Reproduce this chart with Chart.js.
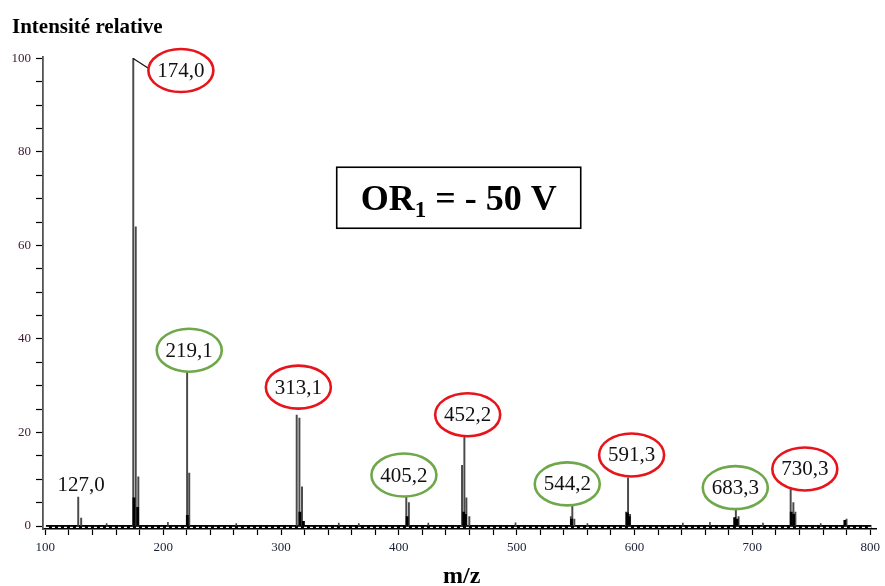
<!DOCTYPE html>
<html lang="fr">
<head>
<meta charset="utf-8">
<script src="https://cdn.jsdelivr.net/npm/chart.js@4.4.1/dist/chart.umd.min.js"></script>
<style>
  html, body { margin: 0; padding: 0; background: #fff; }
  #wrap { width: 885px; height: 586px; }
</style>
</head>
<body>
<div id="wrap"><canvas id="spectre"></canvas></div>
<script>
// pics fins (m/z, intensité relative %)
const peakMz  = [127.9, 130.4, 174.6, 176.7, 178.9, 220.3, 222.1, 313.3, 315.6, 317.8,
                 406.3, 408.5, 453.6, 455.6, 457.3, 459.8, 546.0, 547.2, 548.9,
                 592.8, 594.5, 596.2, 686.0, 688.3, 732.5, 734.8, 736.5, 779.9];
const peakInt = [6.2, 1.7, 100, 64, 10.5, 33.8, 11.3, 23.7, 23.1, 8.4,
                 7.3, 5.0, 13, 19, 6.0, 2.0, 2.0, 4.3, 1.5,
                 3.0, 10.3, 2.5, 4.1, 2.0, 8.1, 5.0, 3.0, 1.5];

// massifs isotopiques au pied des pics
const clusterMz  = [175.2, 178.3, 220.5, 316.0, 319.0, 407.0, 455.0, 456.5, 546.5,
                    594.0, 595.5, 685.0, 687.0, 733.0, 735.0, 778.5];
const clusterInt = [6.0, 4.0, 2.3, 3.0, 1.0, 2.0, 3.0, 2.5, 1.5,
                    2.8, 2.0, 1.8, 1.5, 3.0, 2.5, 1.2];

// bruit de fond
const noiseMz  = [152, 204, 262, 349, 366, 425, 499, 560, 641, 664, 709, 758];
const noiseInt = [0.5, 0.8, 0.5, 0.6, 0.5, 0.6, 0.7, 0.5, 0.6, 0.8, 0.6, 0.5];

const baselineMz  = [100.5, 801];
const baselineInt = [-0.3, -0.3];

// étiquettes des pics
const labelText  = ["127,0", "174,0", "219,1", "313,1", "405,2", "452,2", "544,2", "591,3", "683,3", "730,3"];
const labelMz    = [130.4, 215.0, 222.1, 314.7, 404.3, 458.4, 542.9, 597.5, 685.5, 744.5];
const labelInt   = [8.8, 97.4, 37.6, 29.7, 10.9, 23.8, 9.0, 15.2, 8.2, 12.2];
const labelRing  = ["", "red", "green", "red", "green", "red", "green", "red", "green", "red"];

const xTicks = [100, 200, 300, 400, 500, 600, 700, 800];
const yTicks = [0, 20, 40, 60, 80, 100];

const boxMz = 450.8, boxInt = 70.2;

const serif = "'Liberation Serif', 'Times New Roman', serif";
const ringColors = { red: "#e8141b", green: "#6fa84a" };

const toXY = (xs, ys) => xs.map((x, i) => ({ x: x, y: ys[i] }));

const annotations = {
  id: "annotations",
  afterDatasetsDraw(chart) {
    const { ctx, chartArea, scales: { x, y } } = chart;
    ctx.save();

    // trait de rappel du pic de base
    const px0 = x.getPixelForValue(peakMz[2]), py0 = y.getPixelForValue(peakInt[2]);
    const lx = x.getPixelForValue(labelMz[1]), ly = y.getPixelForValue(labelInt[1]);
    ctx.strokeStyle = "#111";
    ctx.lineWidth = 1.2;
    ctx.beginPath();
    ctx.moveTo(px0, py0);
    ctx.lineTo(lx - 26, ly + 2);
    ctx.stroke();

    ctx.font = "21px " + serif;
    ctx.textAlign = "center";
    ctx.textBaseline = "middle";
    labelText.forEach((t, i) => {
      const cx = x.getPixelForValue(labelMz[i]);
      const cy = y.getPixelForValue(labelInt[i]);
      if (labelRing[i]) {
        ctx.fillStyle = "#fff";
        ctx.beginPath();
        ctx.ellipse(cx, cy, 32.5, 21.5, 0, 0, Math.PI * 2);
        ctx.fill();
        ctx.strokeStyle = ringColors[labelRing[i]];
        ctx.lineWidth = 2.6;
        ctx.stroke();
      }
      ctx.fillStyle = "#111";
      ctx.fillText(t, cx, cy + 1);
    });

    // cadre OR1
    const bx = x.getPixelForValue(boxMz), by = y.getPixelForValue(boxInt);
    ctx.fillStyle = "#fff";
    ctx.fillRect(bx - 122, by - 30.5, 244, 61);
    ctx.strokeStyle = "#000";
    ctx.lineWidth = 1.6;
    ctx.strokeRect(bx - 122, by - 30.5, 244, 61);

    const big = "bold 36px " + serif, small = "bold 23px " + serif;
    ctx.font = big;
    const w1 = ctx.measureText("OR").width;
    const w3 = ctx.measureText(" = - 50 V").width;
    ctx.font = small;
    const w2 = ctx.measureText("1").width;
    let tx = bx - (w1 + w2 + w3) / 2;
    const base = by + 12;
    ctx.textAlign = "left";
    ctx.textBaseline = "alphabetic";
    ctx.fillStyle = "#000";
    ctx.font = big;
    ctx.fillText("OR", tx, base);
    tx += w1;
    ctx.font = small;
    ctx.fillText("1", tx, base + 7);
    tx += w2;
    ctx.font = big;
    ctx.fillText(" = - 50 V", tx, base);

    // titres des axes
    ctx.font = "bold 21px " + serif;
    ctx.fillText("Intensité relative", chartArea.left - 31, chartArea.top - 24);
    ctx.font = "bold 24px " + serif;
    ctx.textAlign = "center";
    ctx.fillText("m/z", (chartArea.left + chartArea.right) / 2 + 2, chart.height - 3);

    ctx.restore();
  }
};

new Chart(document.getElementById("spectre"), {
  data: {
    datasets: [
      {
        type: "bar",
        label: "pics",
        data: toXY(peakMz, peakInt),
        backgroundColor: "#4a4a4a",
        barThickness: 1.3,
        order: 1
      },
      {
        type: "bar",
        label: "massifs",
        data: toXY(clusterMz, clusterInt),
        backgroundColor: "#000",
        barThickness: 2.2,
        order: 0
      },
      {
        type: "bar",
        label: "bruit",
        data: toXY(noiseMz, noiseInt),
        backgroundColor: "#444",
        barThickness: 1,
        order: 2
      },
      {
        type: "line",
        label: "ligne de base",
        data: toXY(baselineMz, baselineInt),
        borderColor: "#000",
        borderWidth: 5,
        pointRadius: 0,
        order: 4
      },
      {
        type: "line",
        label: "ligne de base (tirets)",
        data: toXY(baselineMz, baselineInt),
        borderColor: "#fff",
        borderWidth: 1.2,
        borderDash: [3, 3],
        pointRadius: 0,
        order: 3
      }
    ]
  },
  options: {
    responsive: true,
    maintainAspectRatio: false,
    animation: false,
    grouped: false,
    layout: { padding: { top: 57, right: 6, bottom: 0, left: 0 } },
    plugins: {
      legend: { display: false },
      tooltip: { enabled: false }
    },
    scales: {
      x: {
        type: "linear",
        offset: false,
        min: 98,
        max: 805.3,
        afterFit: (s) => { s.height = 57; },
        afterBuildTicks: (s) => {
          const t = [];
          for (let v = 100; v <= 800; v += 20) t.push({ value: v });
          s.ticks = t;
        },
        grid: { offset: false, drawOnChartArea: false, tickLength: 6, tickColor: "#000", tickWidth: 1.2 },
        border: { color: "#000", width: 1.6 },
        ticks: {
          autoSkip: false,
          maxRotation: 0,
          padding: 5,
          color: "#1a2035",
          font: { family: serif, size: 13 },
          callback: (v) => xTicks.includes(v) ? String(v) : ""
        }
      },
      y: {
        type: "linear",
        min: -0.64,
        max: 100.3,
        afterFit: (s) => { s.width = 43; },
        afterBuildTicks: (s) => {
          const t = [];
          for (let v = 0; v <= 100; v += 5) t.push({ value: v });
          s.ticks = t;
        },
        grid: { drawOnChartArea: false, tickLength: 7, tickColor: "#000", tickWidth: 1.2 },
        border: { color: "#555", width: 1.8 },
        ticks: {
          autoSkip: false,
          padding: 5,
          color: "#3a1a30",
          font: { family: serif, size: 13 },
          callback: (v) => yTicks.includes(v) ? String(v) : ""
        }
      }
    }
  },
  plugins: [annotations]
});
</script>
</body>
</html>
